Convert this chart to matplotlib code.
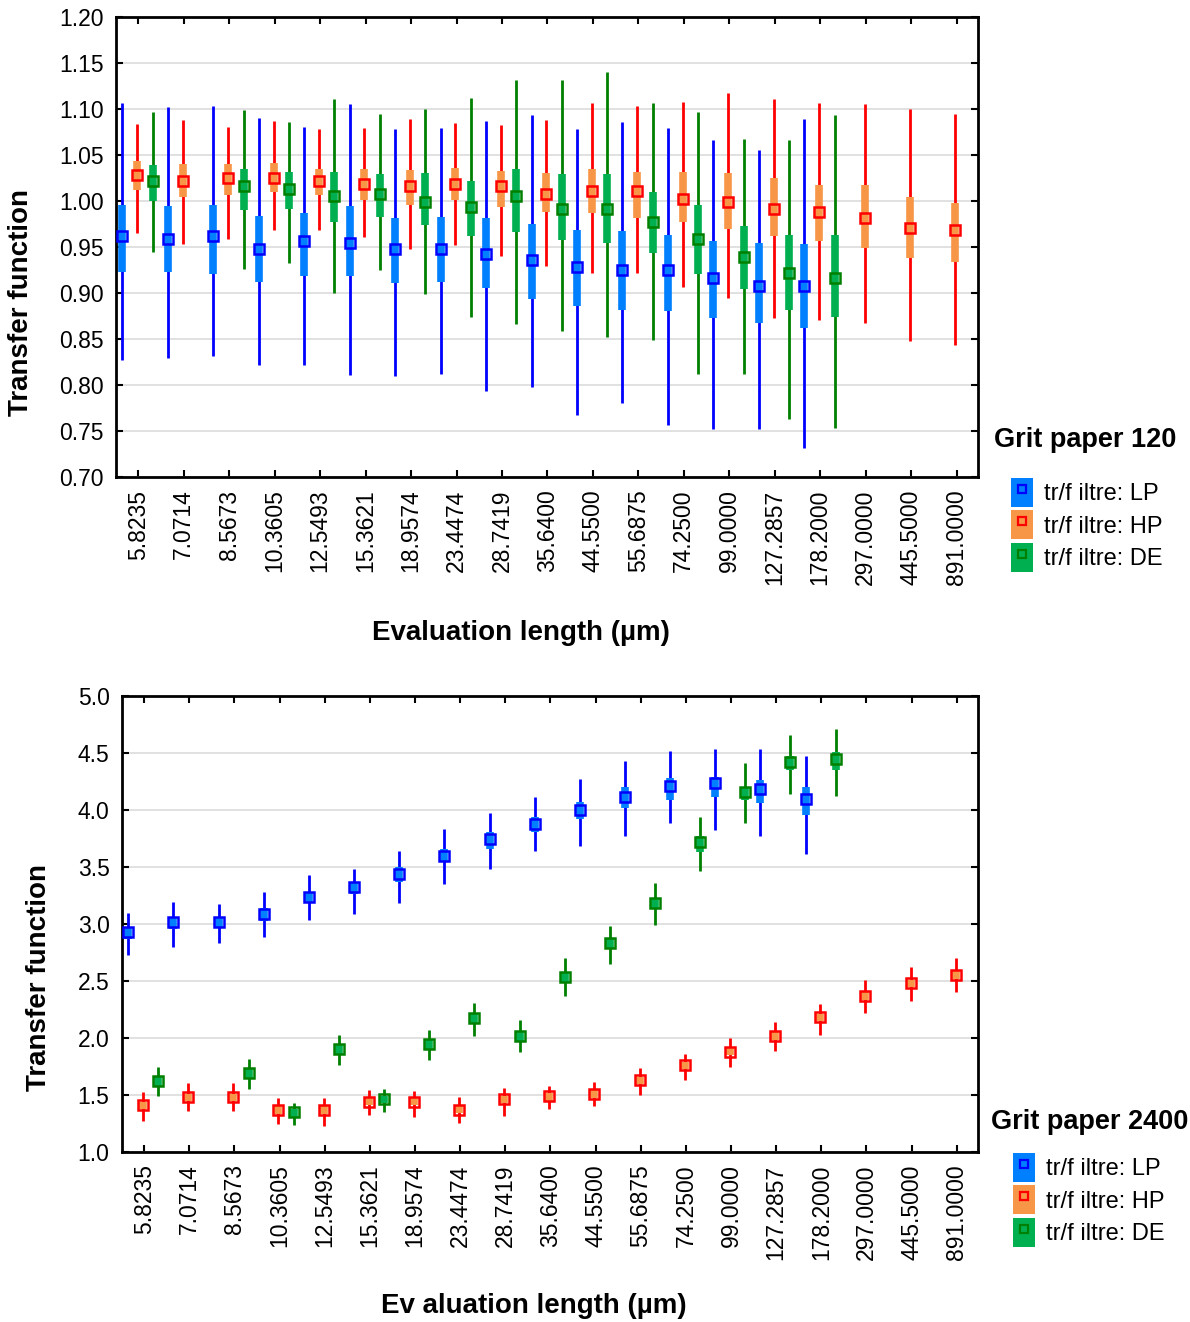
import numpy as np
import matplotlib.pyplot as plt
from matplotlib.patches import Patch
from matplotlib.lines import Line2D

plt.rcParams['font.family'] = ['Liberation Sans', 'DejaVu Sans']

cats = ["5.8235", "7.0714", "8.5673", "10.3605", "12.5493", "15.3621", "18.9574",
        "23.4474", "28.7419", "35.6400", "44.5500", "55.6875", "74.2500", "99.0000",
        "127.2857", "178.2000", "297.0000", "445.5000", "891.0000"]
nan = np.nan

# ---- grit paper 120 ----
lp120_mean = [0.962, 0.959, 0.962, 0.948, 0.956, 0.954, 0.948, 0.948, 0.942, 0.936, 0.928, 0.925, 0.925, 0.916, 0.908, 0.908]
lp120_bhi = [0.996, 0.995, 0.996, 0.984, 0.987, 0.995, 0.981, 0.983, 0.981, 0.975, 0.968, 0.967, 0.963, 0.956, 0.954, 0.953]
lp120_blo = [0.923, 0.923, 0.921, 0.912, 0.918, 0.919, 0.911, 0.912, 0.905, 0.893, 0.886, 0.881, 0.880, 0.873, 0.867, 0.862]
lp120_whi = [1.106, 1.102, 1.103, 1.090, 1.080, 1.105, 1.078, 1.079, 1.087, 1.094, 1.078, 1.086, 1.079, 1.066, 1.055, 1.089]
lp120_wlo = [0.827, 0.829, 0.831, 0.822, 0.822, 0.811, 0.810, 0.812, 0.794, 0.798, 0.767, 0.780, 0.757, 0.752, 0.752, 0.731]

hp120_mean = [1.028, 1.022, 1.025, 1.025, 1.022, 1.019, 1.016, 1.019, 1.016, 1.008, 1.011, 1.011, 1.002, 0.999, 0.991, 0.988, 0.982, 0.971, 0.968]
hp120_bhi = [1.043, 1.040, 1.040, 1.041, 1.035, 1.035, 1.034, 1.036, 1.033, 1.030, 1.035, 1.032, 1.031, 1.030, 1.025, 1.017, 1.017, 1.004, 0.998]
hp120_blo = [1.012, 1.004, 1.006, 1.010, 1.006, 1.001, 0.996, 1.001, 0.994, 0.988, 0.987, 0.981, 0.977, 0.970, 0.962, 0.957, 0.949, 0.938, 0.934]
hp120_whi = [1.084, 1.088, 1.080, 1.087, 1.078, 1.079, 1.089, 1.085, 1.083, 1.088, 1.107, 1.103, 1.108, 1.117, 1.111, 1.106, 1.105, 1.100, 1.095]
hp120_wlo = [0.965, 0.953, 0.959, 0.968, 0.968, 0.961, 0.948, 0.952, 0.940, 0.929, 0.922, 0.922, 0.907, 0.895, 0.873, 0.871, 0.867, 0.848, 0.843]

de120_mean = [1.022, nan, 1.016, 1.013, 1.005, 1.008, 0.999, 0.994, 1.005, 0.991, 0.991, 0.977, 0.959, 0.939, 0.922, 0.916]
de120_bhi = [1.039, nan, 1.035, 1.032, 1.031, 1.029, 1.030, 1.022, 1.035, 1.029, 1.029, 1.010, 0.996, 0.973, 0.963, 0.963]
de120_blo = [1.000, nan, 0.990, 0.991, 0.977, 0.983, 0.974, 0.962, 0.966, 0.958, 0.954, 0.944, 0.921, 0.904, 0.882, 0.874]
de120_whi = [1.097, nan, 1.099, 1.086, 1.111, 1.095, 1.100, 1.112, 1.132, 1.132, 1.140, 1.107, 1.097, 1.067, 1.066, 1.093]
de120_wlo = [0.945, nan, 0.926, 0.933, 0.900, 0.925, 0.899, 0.874, 0.866, 0.859, 0.852, 0.849, 0.812, 0.812, 0.763, 0.753]

# ---- grit paper 2400 ----
lp2400_mean = [2.927, 3.017, 3.017, 3.090, 3.233, 3.321, 3.440, 3.600, 3.743, 3.880, 4.000, 4.117, 4.210, 4.233, 4.180, 4.093]
lp2400_bhi = [2.970, 3.060, 3.060, 3.140, 3.280, 3.370, 3.500, 3.660, 3.810, 3.940, 4.070, 4.200, 4.280, 4.290, 4.260, 4.200]
lp2400_blo = [2.870, 2.960, 2.970, 3.030, 3.180, 3.260, 3.370, 3.540, 3.660, 3.810, 3.920, 4.020, 4.090, 4.110, 4.060, 3.960]
lp2400_whi = [3.096, 3.190, 3.178, 3.277, 3.426, 3.484, 3.636, 3.834, 3.971, 4.117, 4.268, 4.429, 4.519, 4.539, 4.539, 4.475]
lp2400_wlo = [2.732, 2.796, 2.834, 2.883, 3.038, 3.087, 3.184, 3.353, 3.484, 3.638, 3.688, 3.773, 3.883, 3.825, 3.773, 3.615]

hp2400_mean = [1.414, 1.484, 1.484, 1.367, 1.367, 1.440, 1.440, 1.370, 1.464, 1.487, 1.507, 1.630, 1.764, 1.880, 2.017, 2.184, 2.367, 2.484, 2.557]
hp2400_bhi = [1.440, 1.510, 1.510, 1.400, 1.400, 1.470, 1.470, 1.400, 1.490, 1.520, 1.540, 1.660, 1.790, 1.910, 2.050, 2.210, 2.400, 2.510, 2.590]
hp2400_blo = [1.380, 1.450, 1.450, 1.330, 1.330, 1.410, 1.410, 1.340, 1.430, 1.450, 1.470, 1.600, 1.730, 1.850, 1.980, 2.150, 2.330, 2.450, 2.520]
hp2400_whi = [1.522, 1.601, 1.601, 1.478, 1.478, 1.542, 1.531, 1.484, 1.560, 1.580, 1.615, 1.740, 1.857, 1.997, 2.143, 2.300, 2.507, 2.621, 2.703]
hp2400_wlo = [1.274, 1.361, 1.361, 1.245, 1.230, 1.327, 1.309, 1.254, 1.318, 1.376, 1.400, 1.500, 1.630, 1.749, 1.886, 2.023, 2.222, 2.324, 2.405]

de2400_mean = [1.624, nan, 1.697, 1.347, 1.901, 1.464, 1.950, 2.178, 2.017, 2.534, 2.834, 3.184, 3.717, 4.160, 4.417, 4.443]
de2400_bhi = [1.660, nan, 1.740, 1.380, 1.940, 1.490, 1.990, 2.220, 2.060, 2.580, 2.880, 3.230, 3.770, 4.200, 4.470, 4.510]
de2400_blo = [1.580, nan, 1.650, 1.310, 1.850, 1.430, 1.900, 2.130, 1.970, 2.480, 2.780, 3.130, 3.630, 4.090, 4.350, 4.350]
de2400_whi = [1.746, nan, 1.813, 1.434, 2.026, 1.557, 2.067, 2.309, 2.157, 2.703, 2.985, 3.359, 3.942, 4.408, 4.656, 4.714]
de2400_wlo = [1.487, nan, 1.557, 1.236, 1.764, 1.347, 1.808, 2.017, 1.880, 2.367, 2.650, 2.994, 3.466, 3.889, 4.140, 4.125]

series_names = ["tr/f iltre: LP", "tr/f iltre: HP", "tr/f iltre: DE"]
line_cols = ['#0000ff', '#ff0000', '#008000']
box_cols = ['#0080ff', '#f79646', '#00b050']
offsets = [-0.35, -0.025, 0.315]


def draw_series(ax, k, mean, blo, bhi, wlo, whi):
    mean = np.array(mean)
    ok = ~np.isnan(mean)
    x = (np.arange(len(mean)) + offsets[k])[ok]
    ax.vlines(x, np.array(wlo)[ok], np.array(whi)[ok], color=line_cols[k], lw=2, capstyle='butt', zorder=3)
    ax.vlines(x, np.array(blo)[ok], np.array(bhi)[ok], color=box_cols[k], lw=5.5, capstyle='butt', zorder=4)
    ax.plot(x, mean[ok], 's', ms=7, mfc='none', mec=line_cols[k], mew=1.8, zorder=5)


def style_axes(ax, ylim, step, fmt):
    ax.set_xlim(-0.49, 18.47)
    ax.set_ylim(*ylim)
    ax.set_yticks(np.arange(ylim[0], ylim[1] + step / 2, step))
    ax.yaxis.set_major_formatter(plt.FormatStrFormatter(fmt))
    ax.set_xticks(np.arange(len(cats)))
    ax.set_xticklabels(cats, rotation=90)
    ax.tick_params(direction='in', length=5, width=1.5, top=True, right=True,
                   labelsize=16.5, pad=9)
    ax.yaxis.grid(True, color='#dcdcdc', lw=1.2)
    ax.set_axisbelow(True)
    for s in ax.spines.values():
        s.set_linewidth(2)


def add_legend(ax, title, title_xy, anchor):
    fig.text(title_xy[0] / 1190, 1 - title_xy[1] / 1322, title, fontsize=19.5,
             fontweight='bold', ha='left', va='center')
    handles = [(Patch(fc=box_cols[k], ec='none'),
                Line2D([], [], marker='s', ms=5.5, mfc='none', mec=line_cols[k], mew=1.6, ls='none'))
               for k in range(3)]
    ax.legend(handles, series_names, loc='upper left', frameon=False,
              bbox_to_anchor=(anchor[0] / 1190, 1 - anchor[1] / 1322),
              bbox_transform=fig.transFigure, fontsize=17, borderpad=0, borderaxespad=0,
              handlelength=0.95, handleheight=1.5, handletextpad=0.45, labelspacing=0.15)


fig = plt.figure(figsize=(11.9, 13.22), dpi=100)
ax1 = fig.add_axes([116 / 1190, 1 - 477 / 1322, 862 / 1190, 460 / 1322])
ax2 = fig.add_axes([122 / 1190, 1 - 1152 / 1322, 856 / 1190, 456 / 1322])

draw_series(ax1, 0, lp120_mean, lp120_blo, lp120_bhi, lp120_wlo, lp120_whi)
draw_series(ax1, 1, hp120_mean, hp120_blo, hp120_bhi, hp120_wlo, hp120_whi)
draw_series(ax1, 2, de120_mean, de120_blo, de120_bhi, de120_wlo, de120_whi)
style_axes(ax1, (0.70, 1.20), 0.05, '%.2f')
ax1.set_ylabel('Transfer function', fontsize=20, fontweight='bold')
ax1.yaxis.set_label_coords(-0.095, 0.38)
ax1.set_xlabel('Evaluation length (µm)', fontsize=20, fontweight='bold')
ax1.xaxis.set_label_coords(0.47, -0.31)
add_legend(ax1, 'Grit paper 120', (994, 440), (1011, 478))

draw_series(ax2, 0, lp2400_mean, lp2400_blo, lp2400_bhi, lp2400_wlo, lp2400_whi)
draw_series(ax2, 1, hp2400_mean, hp2400_blo, hp2400_bhi, hp2400_wlo, hp2400_whi)
draw_series(ax2, 2, de2400_mean, de2400_blo, de2400_bhi, de2400_wlo, de2400_whi)
style_axes(ax2, (1.0, 5.0), 0.5, '%.1f')
ax2.set_ylabel('Transfer function', fontsize=20, fontweight='bold')
ax2.yaxis.set_label_coords(-0.082, 0.382)
ax2.set_xlabel('Ev aluation length (µm)', fontsize=20, fontweight='bold')
ax2.xaxis.set_label_coords(0.481, -0.31)
add_legend(ax2, 'Grit paper 2400', (991, 1122), (1013, 1153))

fig.savefig('out.png', dpi=100)
